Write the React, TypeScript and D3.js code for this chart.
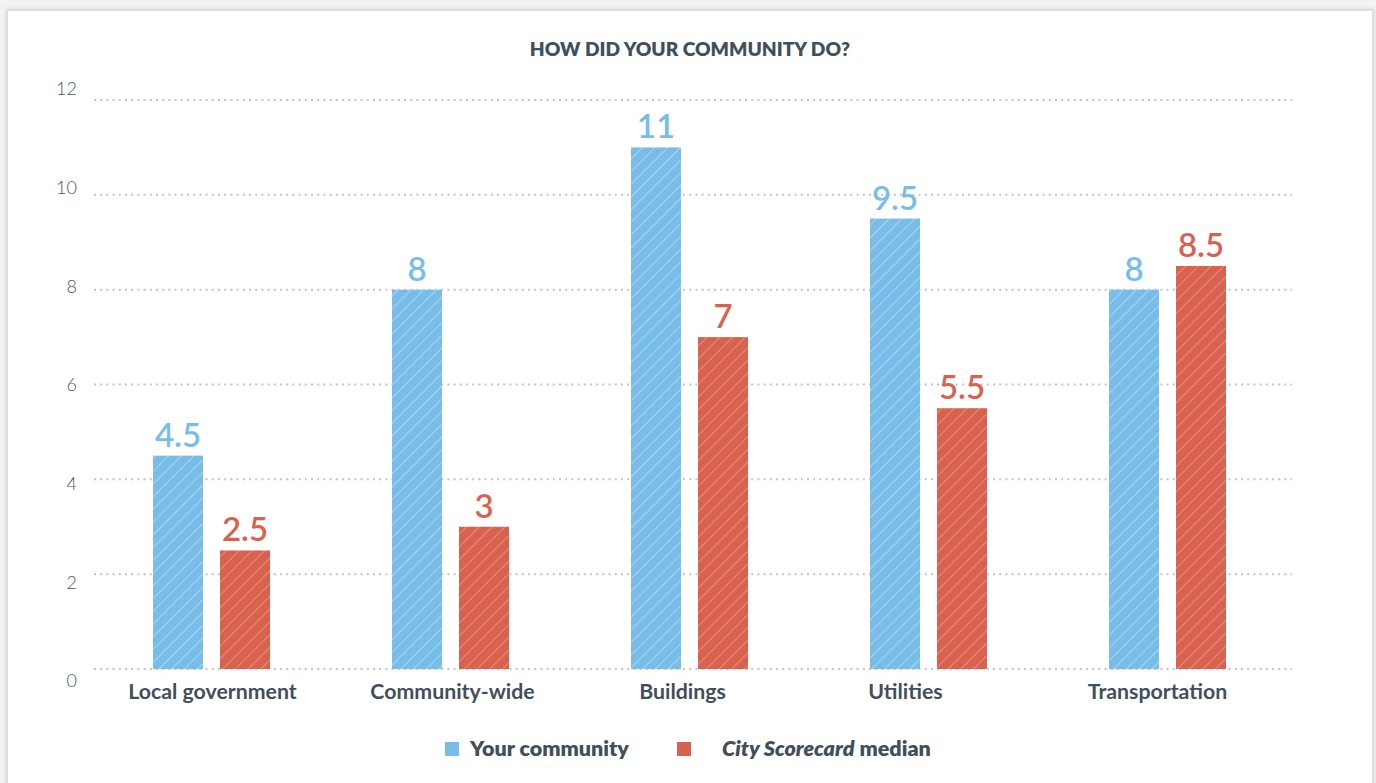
import React from "react";
import * as d3 from "d3";

const categories = ["Local government", "Community-wide", "Buildings", "Utilities", "Transportation"];
const yourCommunity = [4.5, 8, 11, 9.5, 8];
const cityMedian = [2.5, 3, 7, 5.5, 8.5];
const yTicks = [0, 2, 4, 6, 8, 10, 12];
const seriesNames = ["Your community", "City Scorecard median"];

// layout constants (label nudges as in the original)
const LABEL_DX = [1, 2, -7, -23, -10];

const W = 1376;
const H = 783;
const BLUE = "#78bde8";
const RED = "#d9624f";
const TEXT = "#3f4f5b";

export default function App() {
  const x = d3.scaleBand<string>().domain(categories).range([92, 1287]).paddingInner(0).paddingOuter(0);
  const y = d3.scaleLinear().domain([0, 12]).range([669, 100]);
  const yLabel = d3.scaleLinear().domain([0, 12]).range([681, 89]);
  const barW = 50;
  const gap = 17;
  const fmt = (v: number) => (Number.isInteger(v) ? String(v) : v.toFixed(1));

  return (
    <svg width={W} height={H} style={{ position: "absolute", left: 0, top: 0 }} fontFamily="Lato, 'Open Sans', sans-serif">
      <defs>
        <pattern id="hatchB" patternUnits="userSpaceOnUse" width="9" height="9" patternTransform="rotate(45)">
          <rect width="9" height="9" fill={BLUE} />
          <line x1="0" y1="0" x2="0" y2="9" stroke="#ffffff" strokeOpacity="0.45" strokeWidth="1.6" />
        </pattern>
        <pattern id="hatchR" patternUnits="userSpaceOnUse" width="9" height="9" patternTransform="rotate(45)">
          <rect width="9" height="9" fill={RED} />
          <line x1="0" y1="0" x2="0" y2="9" stroke="#ffffff" strokeOpacity="0.35" strokeWidth="1.6" />
        </pattern>
        <filter id="shadow" x="-5%" y="-5%" width="110%" height="110%">
          <feDropShadow dx="0" dy="0" stdDeviation="2" floodColor="#000" floodOpacity="0.15" />
        </filter>
      </defs>
      <rect x={0} y={0} width={W} height={H} fill="#f3f3f3" />
      <rect x={7} y={10} width={1366} height={790} fill="#ffffff" stroke="#d6d6d6" strokeWidth={1.5} filter="url(#shadow)" />

      <text x={690} y={56} textAnchor="middle" fontSize={19.2} fontWeight={800} fill={TEXT}>
        HOW DID YOUR COMMUNITY DO?
      </text>

      {yTicks.map((t) => (
        <g key={t}>
          <line x1={94} x2={1292} y1={y(t)} y2={y(t)} stroke="#c4c4c4" strokeWidth={2} strokeDasharray="2,4.2" />
          <text x={77} y={yLabel(t)} dy="0.35em" textAnchor="end" fontSize={18} fontWeight={300} fill="#4a5661">
            {t}
          </text>
        </g>
      ))}

      {categories.map((c, i) => {
        const cx = (x(c) as number) + x.bandwidth() / 2;
        const bx = cx - gap / 2 - barW;
        const rx = cx + gap / 2;
        const vb = yourCommunity[i];
        const vr = cityMedian[i];
        return (
          <g key={c}>
            <rect x={bx} y={y(vb)} width={barW} height={y(0) - y(vb)} fill="url(#hatchB)" />
            <rect x={rx} y={y(vr)} width={barW} height={y(0) - y(vr)} fill="url(#hatchR)" />
            <text x={bx + barW / 2} y={y(vb) - 9} textAnchor="middle" fontSize={33} fontWeight={600} fill={BLUE}>
              {fmt(vb)}
            </text>
            <text x={rx + barW / 2} y={y(vr) - 9} textAnchor="middle" fontSize={33} fontWeight={600} fill={RED}>
              {fmt(vr)}
            </text>
            <text x={cx + LABEL_DX[i]} y={699} textAnchor="middle" fontSize={21.3} fontWeight={700} fill={TEXT}>
              {c}
            </text>
          </g>
        );
      })}

      <rect x={445} y={742} width={14} height={14} fill={BLUE} />
      <text x={470} y={756} fontSize={21.5} fontWeight={800} fill={TEXT}>
        {seriesNames[0]}
      </text>
      <rect x={677} y={742} width={14} height={14} fill={RED} />
      <text x={722} y={756} fontSize={21.5} fontWeight={800} fill={TEXT}>
        <tspan fontStyle="italic">City Scorecard</tspan>
        <tspan> median</tspan>
      </text>
    </svg>
  );
}
